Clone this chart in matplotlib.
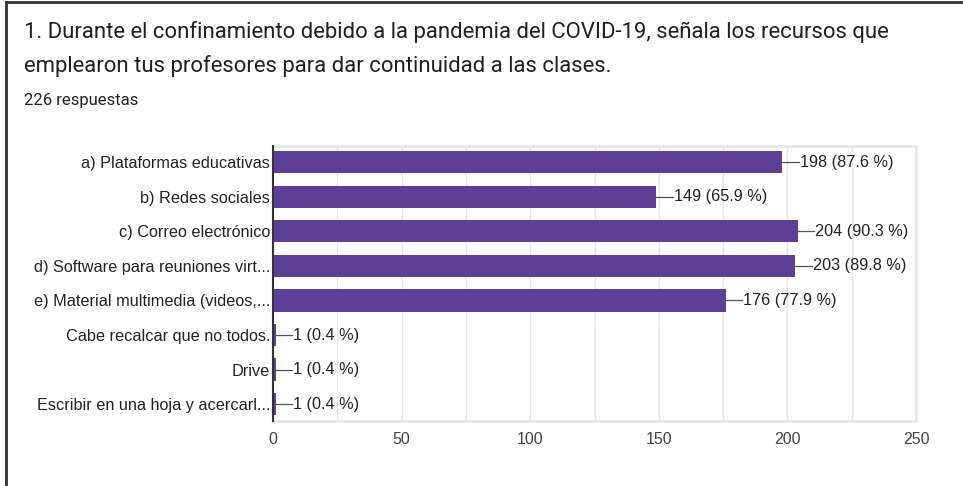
import matplotlib
matplotlib.use('Agg')
import matplotlib.pyplot as plt
from matplotlib.lines import Line2D

# datos de la encuesta
categorias = [
    'a) Plataformas educativas',
    'b) Redes sociales',
    'c) Correo electrónico',
    'd) Software para reuniones virt...',
    'e) Material multimedia (videos,...',
    'Cabe recalcar que no todos.',
    'Drive',
    'Escribir en una hoja y acercarl...',
]
valores = [198, 149, 204, 203, 176, 1, 1, 1]
porcentajes = [87.6, 65.9, 90.3, 89.8, 77.9, 0.4, 0.4, 0.4]
ticks_x = [0, 50, 100, 150, 200, 250]

color_barra = '#5e3f98'
plt.rcParams['font.family'] = ['Liberation Sans', 'DejaVu Sans']

fig = plt.figure(figsize=(9.63, 4.86), dpi=100)
ax = fig.add_axes([0.2835, 0.1337, 0.6677, 0.5658])

y = list(range(len(categorias)))
ax.barh(y, valores, height=0.64, color=color_barra, zorder=3)

# etiquetas de valor con su pequeña línea
for yi, v, p in zip(y, valores, porcentajes):
    ax.plot([v, v + 6.5], [yi, yi], color='#555555', lw=0.9, zorder=4)
    ax.text(v + 6.8, yi, f'{v} ({p} %)', va='center', ha='left',
            fontsize=11.7, color='#222222', zorder=5)

ax.set_yticks(y)
ax.set_yticklabels(categorias, fontsize=11.7, color='#222222')
ax.set_ylim(7.49, -0.47)
ax.set_xlim(0, 250)
ax.set_xticks(ticks_x)
ax.set_xticks(range(25, 250, 50), minor=True)
ax.tick_params(axis='both', which='both', length=0)
ax.tick_params(axis='x', labelsize=11.5, labelcolor='#444444', pad=8)
ax.tick_params(axis='y', pad=2)
ax.grid(axis='x', which='both', color='#e6e6e6', lw=1, zorder=0)

ax.spines['left'].set_color('#333333')
ax.spines['left'].set_linewidth(1.5)
ax.spines['left'].set_zorder(6)
for s in ['top', 'right', 'bottom']:
    ax.spines[s].set_color('#e8e8e8')
    ax.spines[s].set_linewidth(2)

# títulos
fig.text(24 / 963, 1 - 32 / 486,
         '1. Durante el confinamiento debido a la pandemia del COVID-19, señala los recursos que',
         fontsize=15.9, color='#202124', va='center', ha='left', family=['Roboto', 'DejaVu Sans'])
fig.text(24 / 963, 1 - 66 / 486,
         'emplearon tus profesores para dar continuidad a las clases.',
         fontsize=15.9, color='#202124', va='center', ha='left', family=['Roboto', 'DejaVu Sans'])
fig.text(24 / 963, 1 - 101 / 486, '226 respuestas',
         fontsize=12, color='#202124', va='center', ha='left', family=['Roboto', 'DejaVu Sans'])

# marco de la captura
fig.add_artist(Line2D([6 / 963, 1], [1 - 2 / 486, 1 - 2 / 486], color='#333333', lw=2))
fig.add_artist(Line2D([6 / 963, 6 / 963], [0, 1 - 2 / 486], color='#333333', lw=2))

fig.savefig('out.png', dpi=100)
